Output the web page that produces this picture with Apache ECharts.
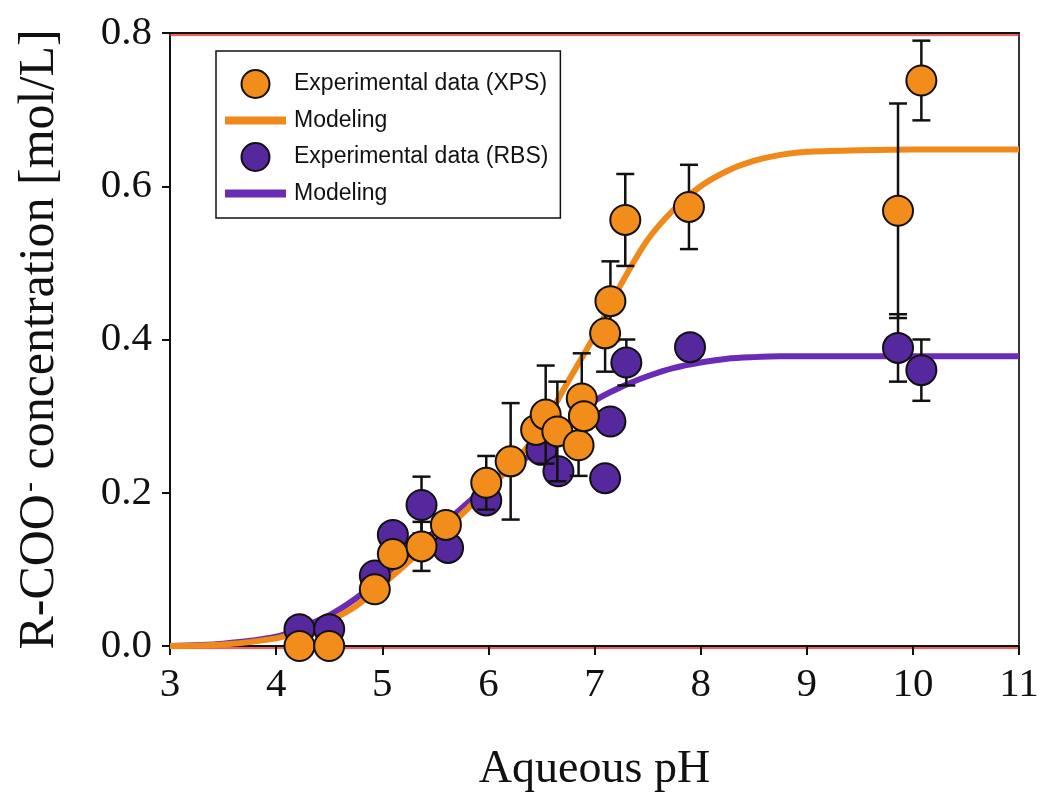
<!DOCTYPE html>
<html>
<head>
<meta charset="utf-8">
<title>R-COO- concentration vs aqueous pH</title>
<script src="https://cdn.jsdelivr.net/npm/echarts@6/dist/echarts.min.js"></script>
<style>
  html, body { margin: 0; padding: 0; background: #fff; }
  #chart { width: 1042px; height: 798px; }
</style>
</head>
<body>
<div id="chart"></div>
<script>
// Experimental data (XPS): pH, concentration [mol/L], error (±)
const xpsPH   = [4.22, 4.50, 4.93, 5.10, 5.37, 5.60, 5.98, 6.21, 6.45, 6.54, 6.65, 6.85, 6.88, 6.90, 7.10, 7.15, 7.29, 7.89, 9.86, 10.08];
const xpsConc = [0.000, 0.000, 0.074, 0.120, 0.130, 0.158, 0.213, 0.241, 0.282, 0.302, 0.280, 0.262, 0.323, 0.300, 0.408, 0.450, 0.556, 0.573, 0.568, 0.738];
const xpsErr  = [0, 0, 0, 0, 0.032, 0, 0.035, 0.076, 0, 0.064, 0.065, 0.040, 0.059, 0.036, 0.050, 0.052, 0.060, 0.055, 0.140, 0.052];

// Experimental data (RBS)
const rbsPH   = [4.22, 4.50, 4.93, 5.10, 5.37, 5.62, 5.98, 6.50, 6.66, 7.10, 7.15, 7.30, 7.90, 9.86, 10.08];
const rbsConc = [0.022, 0.022, 0.092, 0.145, 0.184, 0.128, 0.190, 0.256, 0.228, 0.219, 0.293, 0.370, 0.390, 0.389, 0.360];
const rbsErr  = [0, 0, 0, 0, 0.037, 0, 0, 0, 0, 0, 0, 0.030, 0, 0.044, 0.040];

// Modeling curves sampled along pH
const modelPH  = [3, 3.5, 4, 4.25, 4.5, 4.75, 5, 5.25, 5.5, 5.75, 6, 6.25, 6.5, 6.75, 7, 7.25, 7.5, 7.75, 8, 8.25, 8.5, 8.75, 9, 9.5, 10, 10.5, 11];
const xpsModel = [0, 0.002, 0.010, 0.020, 0.033, 0.052, 0.080, 0.110, 0.140, 0.172, 0.205, 0.240, 0.285, 0.345, 0.405, 0.472, 0.530, 0.570, 0.600, 0.620, 0.633, 0.641, 0.645, 0.647, 0.648, 0.648, 0.648];
const rbsModel = [0, 0.003, 0.012, 0.025, 0.040, 0.062, 0.090, 0.120, 0.150, 0.180, 0.210, 0.235, 0.260, 0.290, 0.320, 0.338, 0.352, 0.363, 0.370, 0.375, 0.377, 0.378, 0.378, 0.378, 0.378, 0.378, 0.378];

// Axis ticks
const xTicks = { min: 3, max: 11, step: 1 };
const yTicks = { min: 0, max: 0.8, step: 0.2 };

const ORANGE = '#f28c1a';
const ORANGE_LINE = '#f0891a';
const PURPLE = '#55289e';
const PURPLE_LINE = '#6a2cb6';
const INK = '#111111';
const SERIF = '"Liberation Serif", "Times New Roman", serif';
const SANS = '"Liberation Sans", Arial, sans-serif';
const BAR_ICON = 'path://M0,0H60V8H0Z';

const zip3 = (a, b, c) => a.map((v, i) => [v, b[i], c[i]]);
const zip2 = (a, b) => a.map((v, i) => [v, b[i]]);

// Vertical error bar with caps
function errorBar(params, api) {
  const x = api.value(0), y = api.value(1), e = api.value(2);
  if (!e) return null;
  const top = api.coord([x, y + e]);
  const bot = api.coord([x, y - e]);
  const half = 9;
  const style = { stroke: INK, lineWidth: 2.5 };
  return {
    type: 'group',
    children: [
      { type: 'line', shape: { x1: top[0], y1: top[1], x2: bot[0], y2: bot[1] }, style },
      { type: 'line', shape: { x1: top[0] - half, y1: top[1], x2: top[0] + half, y2: top[1] }, style },
      { type: 'line', shape: { x1: bot[0] - half, y1: bot[1], x2: bot[0] + half, y2: bot[1] }, style }
    ]
  };
}

const frameLine = { color: INK, width: 2, shadowColor: 'rgba(225,40,40,0.8)', shadowOffsetY: 2, shadowBlur: 1 };

const chart = echarts.init(document.getElementById('chart'), null, { renderer: 'canvas' });
chart.setOption({
  backgroundColor: '#ffffff',
  animation: false,
  grid: { left: 170, right: 23, top: 33, bottom: 151, containLabel: false },
  legend: {
    orient: 'vertical',
    left: 216,
    top: 51,
    padding: [18, 12, 13, 9],
    itemWidth: 61,
    itemHeight: 28,
    itemGap: 10,
    symbolKeepAspect: true,
    borderColor: INK,
    borderWidth: 1.5,
    backgroundColor: '#ffffff',
    formatter: n => (n.indexOf('Modeling') === 0 ? 'Modeling' : n),
    textStyle: { fontFamily: SANS, fontSize: 23, color: '#111', padding: [0, 0, 0, 3] },
    data: [
      { name: 'Experimental data (XPS)' },
      { name: 'Modeling (XPS)', icon: BAR_ICON },
      { name: 'Experimental data (RBS)' },
      { name: 'Modeling (RBS)', icon: BAR_ICON }
    ]
  },
  xAxis: [{
    type: 'value',
    min: xTicks.min, max: xTicks.max, interval: xTicks.step,
    name: 'Aqueous pH',
    nameLocation: 'middle',
    nameGap: 101,
    nameTextStyle: { fontFamily: SERIF, fontSize: 46, color: '#111' },
    axisLine: { show: true, onZero: false, lineStyle: frameLine },
    axisTick: { show: true, inside: false, length: 9, lineStyle: { color: INK, width: 2 } },
    axisLabel: { fontFamily: SERIF, fontSize: 41, color: '#111', margin: 19 },
    splitLine: { show: false }
  }, {
    type: 'value', position: 'top',
    min: xTicks.min, max: xTicks.max, interval: xTicks.step,
    axisLine: { show: true, onZero: false, lineStyle: frameLine },
    axisTick: { show: false }, axisLabel: { show: false }, splitLine: { show: false }
  }],
  yAxis: [{
    type: 'value',
    min: yTicks.min, max: yTicks.max, interval: yTicks.step,
    name: '{a|R-COO}{s|-}{a| concentration [mol/L]}',
    nameLocation: 'middle',
    nameGap: 105,
    nameRotate: 90,
    nameTextStyle: {
      rich: {
        a: { fontFamily: SERIF, fontSize: 50, color: '#111' },
        s: { fontFamily: SERIF, fontSize: 30, color: '#111', verticalAlign: 'top', padding: [0, 0, 0, 2] }
      }
    },
    axisLine: { show: true, onZero: false, lineStyle: { color: INK, width: 2 } },
    axisTick: { show: true, inside: false, length: 8, lineStyle: { color: INK, width: 2 } },
    axisLabel: { fontFamily: SERIF, fontSize: 41, color: '#111', margin: 18, formatter: v => v.toFixed(1) },
    splitLine: { show: false }
  }, {
    type: 'value', position: 'right',
    min: yTicks.min, max: yTicks.max, interval: yTicks.step,
    axisLine: { show: true, onZero: false, lineStyle: { color: '#333', width: 2 } },
    axisTick: { show: false }, axisLabel: { show: false }, splitLine: { show: false }
  }],
  series: [
    {
      name: 'Modeling (RBS)', type: 'line', z: 2,
      data: zip2(modelPH, rbsModel),
      symbol: 'none', smooth: 0.3,
      lineStyle: { color: PURPLE_LINE, width: 6 },
      itemStyle: { color: PURPLE_LINE }
    },
    {
      name: 'Modeling (XPS)', type: 'line', z: 2,
      data: zip2(modelPH, xpsModel),
      symbol: 'none', smooth: 0.3,
      lineStyle: { color: ORANGE_LINE, width: 6 },
      itemStyle: { color: ORANGE_LINE }
    },
    {
      name: 'RBS error', type: 'custom', z: 3,
      renderItem: errorBar,
      data: zip3(rbsPH, rbsConc, rbsErr),
      encode: { x: 0, y: 1 }
    },
    {
      name: 'Experimental data (RBS)', type: 'scatter', z: 4,
      data: zip2(rbsPH, rbsConc),
      symbol: 'circle', symbolSize: 30,
      itemStyle: { color: PURPLE, borderColor: INK, borderWidth: 2, opacity: 1 }
    },
    {
      name: 'XPS error', type: 'custom', z: 5,
      renderItem: errorBar,
      data: zip3(xpsPH, xpsConc, xpsErr),
      encode: { x: 0, y: 1 }
    },
    {
      name: 'Experimental data (XPS)', type: 'scatter', z: 6,
      data: zip2(xpsPH, xpsConc),
      symbol: 'circle', symbolSize: 30,
      itemStyle: { color: ORANGE, borderColor: INK, borderWidth: 2, opacity: 1 }
    }
  ]
});
</script>
</body>
</html>
